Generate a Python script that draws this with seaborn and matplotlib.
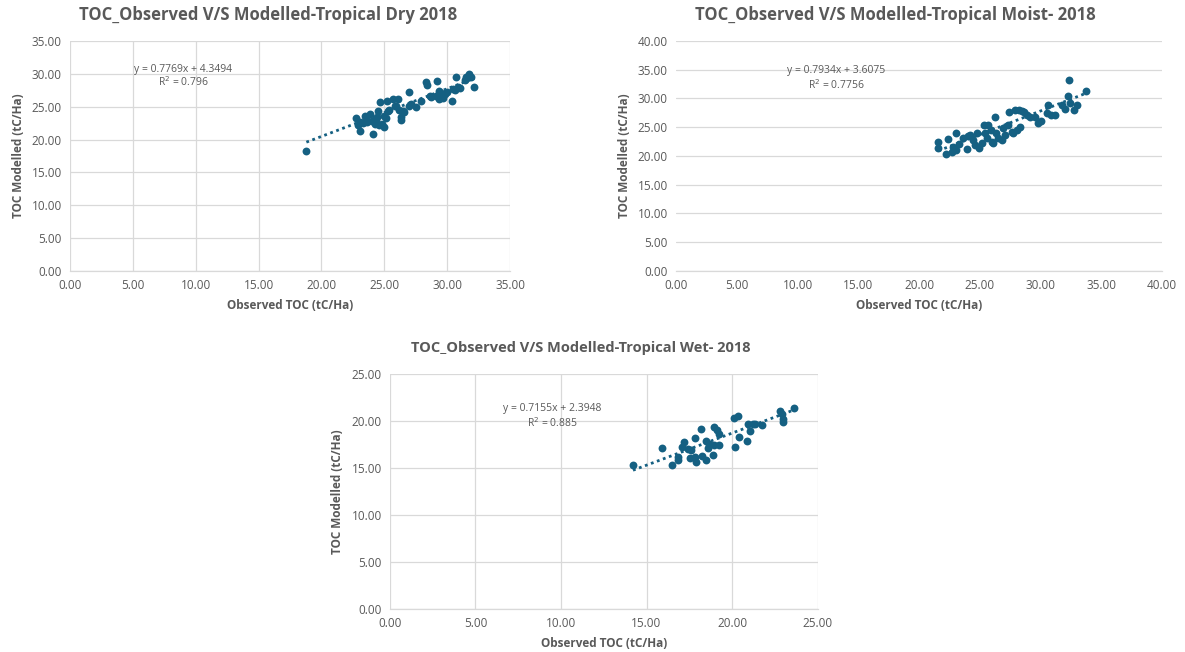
import seaborn as sns
import matplotlib.pyplot as plt
import pandas as pd
import numpy as np

# TOC observed vs modelled, 2018, three climate zones
dry_obs = [18.80, 22.76, 23.03, 23.08, 23.47, 23.60, 23.87, 24.08, 24.26, 24.40, 24.50, 24.66, 24.79,
           24.97, 25.18, 25.30, 25.66, 25.84, 26.10, 26.30, 26.50, 26.97, 27.16, 27.55, 28.29, 28.40,
           28.74, 29.21, 29.34, 29.39, 29.79, 30.39, 30.45, 30.71, 30.84, 31.50, 31.76, 31.90, 32.16,
           22.87, 23.27, 23.54, 24.00, 24.33, 24.60, 25.00, 25.13, 25.40, 25.93, 26.20, 26.33, 26.60,
           27.00, 27.93, 28.64, 29.12, 29.52, 29.65, 30.00, 30.59, 31.04, 31.38]
dry_mod = [18.32, 23.27, 22.60, 21.33, 23.60, 22.60, 23.88, 20.90, 22.35, 23.37, 24.40, 25.66, 22.35,
           23.60, 25.90, 24.40, 26.17, 25.15, 26.17, 23.37, 24.40, 27.20, 25.40, 25.00, 28.72, 28.37,
           26.43, 28.88, 27.45, 26.17, 26.94, 25.90, 27.70, 29.49, 27.96, 29.49, 30.00, 29.59, 28.06,
           22.23, 22.50, 23.25, 22.80, 23.00, 22.23, 21.98, 23.25, 24.50, 25.03, 24.50, 23.00, 24.26,
           25.03, 25.79, 26.55, 26.55, 27.06, 26.29, 27.20, 27.56, 27.82, 29.09]

moist_obs = [21.59, 21.59, 22.41, 22.69, 22.82, 23.04, 23.04, 23.65, 23.98, 24.20, 24.47, 24.80, 24.96,
             25.16, 25.37, 25.57, 25.70, 25.90, 25.98, 26.25, 26.34, 26.53, 26.80, 27.08, 27.35, 27.43,
             27.62, 27.90, 28.04, 28.26, 28.31, 28.64, 28.86, 29.13, 29.55, 29.82, 30.01, 30.51, 30.64,
             30.83, 31.19, 31.74, 32.01, 32.29, 32.37, 32.43, 32.76, 32.97, 33.74,
             22.20, 23.30, 24.00, 24.60, 25.40, 26.10, 26.90, 27.70, 28.50]
moist_mod = [22.50, 21.34, 22.91, 20.76, 21.51, 23.95, 21.05, 23.08, 21.16, 23.66, 22.79, 23.95, 21.34,
             22.20, 25.41, 23.08, 25.41, 24.53, 22.50, 26.74, 23.95, 23.08, 22.79, 23.66, 25.41, 27.73,
             24.24, 28.02, 24.53, 28.02, 25.12, 27.73, 27.15, 26.86, 26.86, 25.70, 26.16, 27.44, 28.90,
             27.15, 27.15, 28.90, 28.14, 30.35, 33.26, 29.19, 28.02, 28.90, 31.22,
             20.40, 22.10, 23.40, 21.90, 24.00, 22.30, 24.80, 24.00, 27.90]

wet_obs = [14.21, 15.90, 16.49, 16.83, 16.83, 17.07, 17.19, 17.42, 17.55, 17.61, 17.81, 17.81, 17.90,
           18.16, 18.25, 18.45, 18.49, 18.58, 18.68, 18.88, 18.93, 18.97, 19.11, 19.21, 19.26, 20.10,
           20.33, 20.20, 20.39, 20.86, 20.92, 21.05, 21.21, 21.35, 21.73, 22.80, 22.92, 22.96, 22.96,
           23.64]
wet_mod = [15.32, 17.13, 15.32, 16.17, 15.82, 17.23, 17.73, 17.06, 16.07, 16.95, 18.18, 16.17, 15.64,
           19.17, 16.24, 15.82, 17.87, 17.16, 17.58, 16.35, 17.41, 19.35, 19.00, 18.64, 17.41, 20.34,
           20.48, 17.23, 18.29, 17.83, 19.70, 18.93, 19.63, 19.70, 19.53, 21.05, 20.76, 20.23, 19.88,
           21.40]

titles = ['TOC_Observed V/S Modelled-Tropical Dry 2018',
          'TOC_Observed V/S Modelled-Tropical Moist- 2018',
          'TOC_Observed V/S Modelled-Tropical Wet- 2018']
eq_text = ['y = 0.7769x + 4.3494', 'y = 0.7934x + 3.6075', 'y = 0.7155x + 2.3948']
r2 = ['0.796', '0.7756', '0.885']
# dotted trendline ends as drawn in the picture (x = first / last observation)
trend_y = [[19.6, 29.3], [20.9, 30.9], [14.76, 21.19]]
axis_max = [35, 40, 25]

BLUE = '#156082'
GREY = '#595959'
GRID = '#D9D9D9'

sns.set_style('white')
plt.rcParams['font.family'] = ['Open Sans', 'DejaVu Sans']

fig = plt.figure(figsize=(11.85, 6.52), dpi=100)
panels = [
    dict(rect=[0.0591, 0.5844, 0.3713, 0.3528], tx=0.226, ty=0.977, eq=(9.0, 30.7, 28.8), vgrid=True, ts=12),
    dict(rect=[0.5705, 0.5844, 0.4101, 0.3528], tx=0.756, ty=0.977, eq=(13.2, 34.8, 32.4), vgrid=False, ts=12),
    dict(rect=[0.3291, 0.0660, 0.3608, 0.3604], tx=0.490, ty=0.466, eq=(9.47, 21.3, 19.8), vgrid=True, ts=10.5),
]
data = [(dry_obs, dry_mod), (moist_obs, moist_mod), (wet_obs, wet_mod)]

for i, p in enumerate(panels):
    ax = fig.add_axes(p['rect'])
    obs, mod = data[i]
    df = pd.DataFrame({'obs': obs, 'mod': mod})
    sns.scatterplot(data=df, x='obs', y='mod', ax=ax, color=BLUE, s=32, edgecolor=BLUE,
                    linewidth=0, zorder=3)
    xs = [min(obs), max(obs)]
    sns.lineplot(x=xs, y=trend_y[i], ax=ax, color=BLUE, linestyle=(0, (1, 1.3)),
                 linewidth=2, zorder=4)

    m = axis_max[i]
    ax.set_xlim(0, m)
    ax.set_ylim(0, m)
    ticks = np.arange(0, m + 0.1, 5)
    ax.set_xticks(ticks)
    ax.set_yticks(ticks)
    ax.set_xticklabels([f'{t:.2f}' for t in ticks])
    ax.set_yticklabels([f'{t:.2f}' for t in ticks])
    ax.tick_params(length=0, labelsize=8.5, labelcolor=GREY, pad=6)
    ax.grid(axis='y', color=GRID, linewidth=0.9)
    if p['vgrid']:
        ax.grid(axis='x', color=GRID, linewidth=0.9)
    ax.set_axisbelow(True)
    for s in ['top', 'right', 'left']:
        ax.spines[s].set_visible(False)
    ax.spines['bottom'].set_color(GRID)
    ax.spines['bottom'].set_linewidth(0.9)

    ax.set_xlabel('Observed TOC (tC/Ha)', fontsize=8.5, fontweight='bold', color=GREY, labelpad=5)
    ax.set_ylabel('TOC Modelled (tC/Ha)', fontsize=8.5, fontweight='bold', color=GREY, labelpad=5)

    ex, ey1, ey2 = p['eq']
    ax.text(ex, ey1, eq_text[i], fontsize=7.5, color=GREY, ha='center', va='center')
    ax.text(ex, ey2, f'R$^2$ = {r2[i]}', fontsize=7.5, color=GREY, ha='center', va='center')

    fig.text(p['tx'], p['ty'], titles[i], fontsize=p['ts'], fontweight='bold', color=GREY,
             ha='center', va='center')

fig.savefig('out.png', dpi=100)
